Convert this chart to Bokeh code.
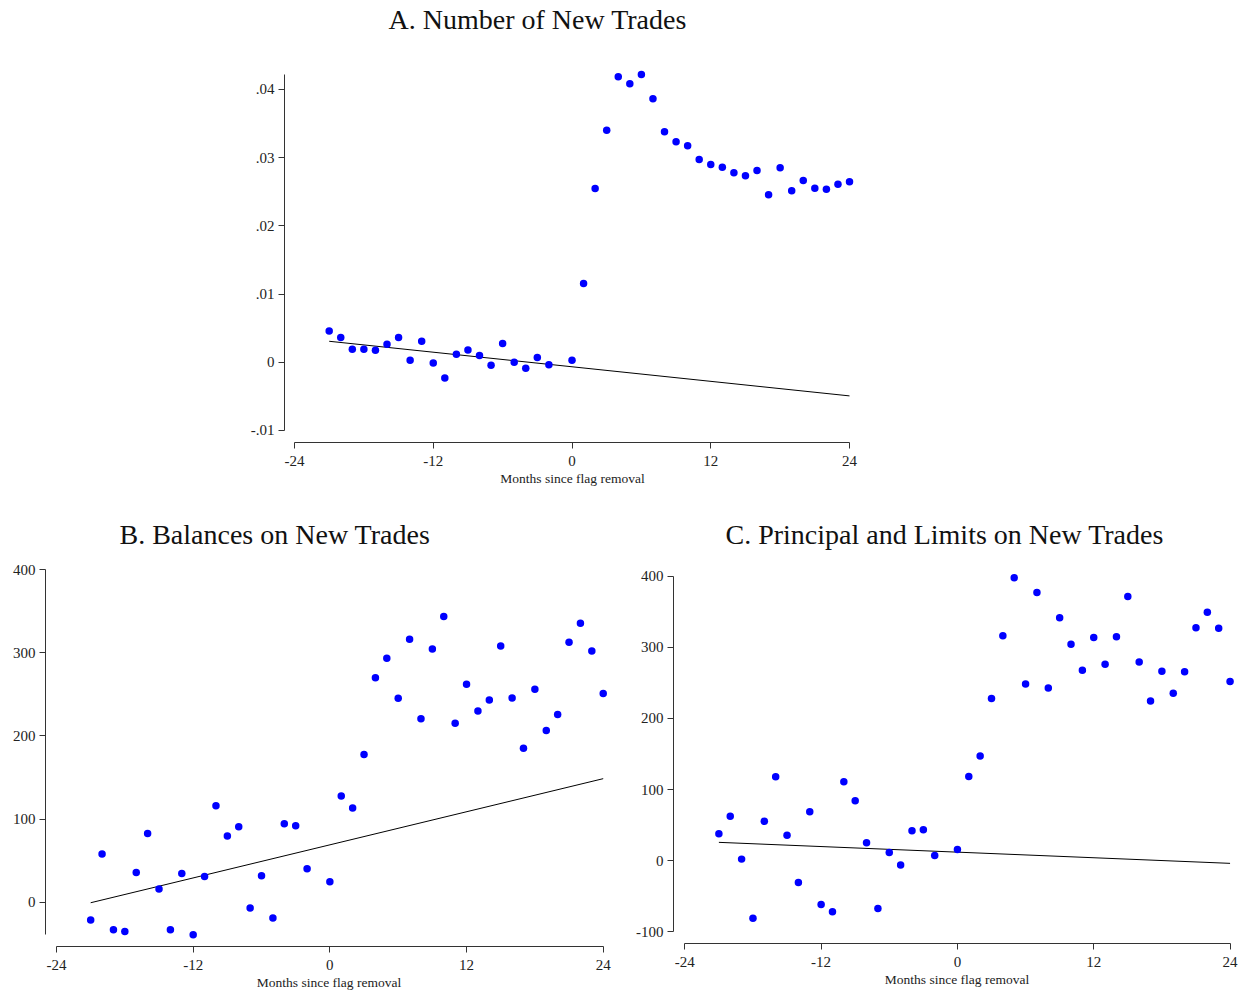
from bokeh.plotting import figure
from bokeh.models import Range1d, FixedTicker, CustomJSTickFormatter, Spacer
from bokeh.layouts import column, row
from bokeh.embed import file_html
from bokeh.resources import INLINE

# Months relative to the flag removal (month -1 is the omitted reference month)
months = [-21, -20, -19, -18, -17, -16, -15, -14, -13, -12, -11, -10, -9, -8, -7,
          -6, -5, -4, -3, -2, 0, 1, 2, 3, 4, 5, 6, 7, 8, 9, 10, 11, 12, 13, 14,
          15, 16, 17, 18, 19, 20, 21, 22, 23, 24]

# A. Number of new trades
new_trades = [0.00459, 0.00361, 0.0019, 0.0019, 0.00176, 0.00263, 0.00361, 0.00029,
              0.00307, -0.0001, -0.0023, 0.00117, 0.0018, 0.00098, -0.00044, 0.00273,
              0.0, -0.00088, 0.00068, -0.00039, 0.0003,
              0.01154, 0.02547, 0.03402, 0.04185, 0.04082, 0.04218, 0.03862, 0.03378,
              0.03232, 0.03173, 0.02972, 0.02899, 0.02859, 0.02777, 0.02733, 0.02811,
              0.02455, 0.0285, 0.02513, 0.02664, 0.02551, 0.02537, 0.0261, 0.02645]

# B. Balances on new trades
balances = [-21.7, 57.8, -33.4, -35.4, 35.7, 82.7, 15.6, -33.4, 34.5, -39.4, 30.8,
            116.0, 79.5, 90.7, -7.2, 31.7, -19.3, 94.3, 91.9, 40.1, 24.5,
            127.7, 113.2, 177.8, 270.2, 293.5, 245.3, 316.4, 220.8, 304.8, 343.7,
            215.2, 262.2, 230.1, 243.4, 308.4, 245.8, 185.1, 256.1, 206.7, 225.7,
            312.8, 335.7, 302.4, 251.0]

# C. Principal and limits on new trades
principal = [38.0, 62.4, 2.3, -80.7, 55.4, 118.2, 35.7, -30.5, 68.9, -61.4, -71.8,
             111.1, 84.4, 25.3, -67.1, 11.7, -6.1, 42.2, 43.6, 7.5, 15.9,
             118.6, 147.3, 227.9, 316.1, 397.7, 248.6, 377.0, 243.0, 341.4, 304.3,
             267.7, 313.7, 276.2, 314.7, 371.4, 279.5, 224.7, 266.3, 235.4, 265.5,
             327.4, 349.3, 326.8, 251.8]

# Pre-period linear trends (intercept at month 0, slope per month)
trend_a = (-0.00067, -0.000178)
trend_b = (68.9, 3.32)
trend_c = (12.1, -0.656)

x_ticks = [-24, -12, 0, 12, 24]
y_ticks_a = [-0.01, 0.0, 0.01, 0.02, 0.03, 0.04]
y_ticks_b = [0, 100, 200, 300, 400]
y_ticks_c = [-100, 0, 100, 200, 300, 400]

FONT = "Liberation Serif"
INK = "#222222"

# plain hyphen-minus labels
int_fmt = CustomJSTickFormatter(code="return Math.round(tick).toString();")
share_fmt = CustomJSTickFormatter(code="""
    if (Math.abs(tick) < 1e-9) { return '0'; }
    return tick.toFixed(2).replace('0.', '.');
""")


def panel(title, values, trend, y_ticks, x_range, y_range, frame_w, frame_h,
          borders, title_left, y_formatter):
    left, right, top, bottom = borders
    p = figure(frame_width=frame_w, frame_height=frame_h,
               x_range=Range1d(*x_range), y_range=Range1d(*y_range),
               min_border_left=left, min_border_right=right,
               min_border_top=top, min_border_bottom=bottom,
               x_axis_label="Months since flag removal",
               output_backend="svg", toolbar_location=None)
    p.title.text = title
    p.title.align = "left"
    p.title.offset = title_left
    p.title.standoff = 0
    p.title.text_font = FONT
    p.title.text_font_size = "28px"
    p.title.text_font_style = "normal"
    p.title.text_color = "#111111"

    p.grid.visible = False
    p.outline_line_color = None
    p.background_fill_color = "white"
    p.border_fill_color = "white"

    for ax in (p.xaxis[0], p.yaxis[0]):
        ax.axis_line_color = "#333333"
        ax.axis_line_width = 1
        ax.major_tick_line_color = "#333333"
        ax.major_tick_out = 6
        ax.major_tick_in = 0
        ax.minor_tick_line_color = None
        ax.major_label_text_font = FONT
        ax.major_label_text_font_size = "15px"
        ax.major_label_text_color = INK

    p.xaxis.ticker = FixedTicker(ticks=x_ticks)
    p.xaxis.bounds = (x_ticks[0], x_ticks[-1])
    p.xaxis.formatter = int_fmt
    p.xaxis.major_label_standoff = 7
    p.xaxis.axis_label_text_font = FONT
    p.xaxis.axis_label_text_font_size = "13.5px"
    p.xaxis.axis_label_text_font_style = "normal"
    p.xaxis.axis_label_text_color = INK
    p.xaxis.axis_label_standoff = 2

    p.yaxis.ticker = FixedTicker(ticks=y_ticks)
    p.yaxis.bounds = (min(y_ticks[0], min(values)), max(y_ticks[-1], max(values)))
    p.yaxis.major_label_orientation = "horizontal"
    p.yaxis.major_label_standoff = 4
    p.yaxis.formatter = y_formatter

    # pre-period trend extended over the whole window
    intercept, slope = trend
    xs = [months[0], months[-1]]
    p.line(xs, [intercept + slope * x for x in xs], line_color="black", line_width=1)

    p.scatter(months, values, size=7.5, fill_color="#0000ff", line_color=None)
    return p


p_a = panel("A. Number of New Trades", new_trades, trend_a, y_ticks_a,
            (-24.865, 24.95), (-0.011774, 0.04805), 576, 408,
            (70, 20, 34, 70), 104, share_fmt)

p_b = panel("B. Balances on New Trades", balances, trend_b, y_ticks_b,
            (-24.966, 24.815), (-53.5, 424.5), 567, 397,
            (45, 8, 37, 50), 74, int_fmt)

p_c = panel("C. Principal and Limits on New Trades", principal, trend_c, y_ticks_c,
            (-24.995, 24.92), (-116.3, 437.5), 567, 394,
            (53, 15, 37, 50), 52, int_fmt)

page = column(row(Spacer(width=214, height=10), p_a), row(p_b, p_c))

open("out.html", "w").write(file_html(page, INLINE))
